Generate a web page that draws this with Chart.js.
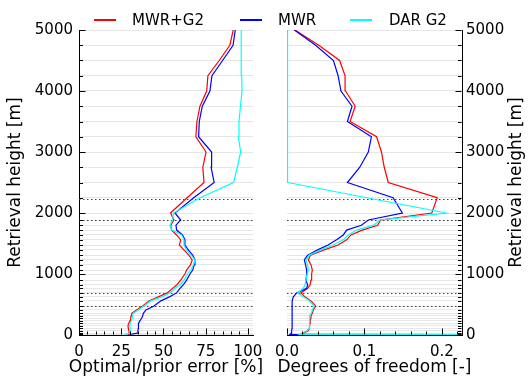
<!DOCTYPE html>
<html>
<head>
<meta charset="utf-8">
<script src="https://cdn.jsdelivr.net/npm/chart.js@4.4.0/dist/chart.umd.min.js"></script>
<style>
  body { margin: 0; background: #fff; }
  #fig { position: relative; width: 528px; height: 378px; font-family: 'DejaVu Sans', sans-serif; }
  #fig canvas { position: absolute; top: 0; }
  #errChart { left: 0; }
  #dofChart { left: 270px; }
  .key { position: absolute; top: 11px; font-size: 15px; line-height: 18px; color: #000; white-space: nowrap; }
  .swatch { position: absolute; top: 19px; width: 22px; height: 1.5px; }
</style>
</head>
<body>
<div id="fig">
  <canvas id="errChart" width="270" height="378"></canvas>
  <canvas id="dofChart" width="258" height="378"></canvas>
  <div id="legend"></div>
</div>
<script>
// retrieval levels [m]
const heights = [0, 10, 30, 70, 110, 150, 190, 235, 275, 315, 355, 410, 475, 560, 625, 690, 765, 820, 900, 1000,
  1065, 1150, 1230, 1310, 1395, 1475, 1560, 1640, 1720, 1800, 1885, 2000, 2250, 2500, 2750, 3000, 3250, 3500,
  3750, 4000, 4250, 4500, 4750, 5000];
const heightLabels = [0, 1000, 2000, 3000, 4000, 5000];
const layerEdges = [475, 690, 1885, 2235];

const seriesNames = ['MWR+G2', 'MWR', 'DAR G2'];
const seriesColors = ['#ff0000', '#0000ff', '#00ffff'];

// optimal/prior error [%]
const errMwrG2 = [29.2, 29.2, 29.8, 29.6, 29.2, 29.0, 29.4, 30.2, 30.6, 30.8, 31.2, 34.1, 37.7, 41.6, 47.0, 52.3,
  55.4, 57.8, 60.2, 62.7, 63.7, 66.0, 67.0, 65.0, 62.1, 59.4, 60.2, 57.8, 54.8, 54.3, 56.2, 54.2, 64.0, 74.0,
  73.3, 75.2, 69.2, 69.8, 71.6, 75.6, 76.3, 83.0, 89.3, 91.3];
const errMwr = [30.2, 30.2, 34.5, 34.9, 35.1, 35.1, 35.3, 36.1, 37.1, 37.7, 38.1, 39.6, 44.4, 48.5, 53.5, 57.8,
  59.8, 61.7, 63.7, 65.7, 67.3, 68.2, 68.6, 67.3, 64.7, 62.7, 62.7, 61.3, 57.8, 57.4, 60.2, 56.8, 67.9, 80.0,
  78.2, 78.5, 70.8, 71.2, 73.0, 77.5, 78.7, 85.0, 91.2, 92.5];
const errDarG2 = [27.2, 27.2, 30.2, 30.4, 30.2, 30.0, 30.4, 31.0, 31.4, 31.6, 32.1, 35.1, 38.5, 42.4, 48.9, 53.8,
  56.8, 59.8, 62.1, 64.3, 66.1, 67.8, 68.6, 66.3, 63.7, 62.1, 62.1, 60.8, 55.0, 53.8, 55.4, 56.0, 71.7, 91.5,
  93.7, 95.7, 94.3, 94.7, 95.6, 96.5, 96.3, 96.2, 96.0, 95.9];

// degrees of freedom per level [-]
const dofMwrG2 = [1.5, 0.018, 0.021, 0.0275, 0.029, 0.029, 0.030, 0.030, 0.031, 0.031, 0.0327, 0.034, 0.037,
  0.031, 0.0232, 0.018, 0.0267, 0.0297, 0.031, 0.0318, 0.0327, 0.031, 0.0275, 0.0305, 0.048, 0.066, 0.077,
  0.0826, 0.097, 0.117, 0.121, 0.187, 0.194, 0.1308, 0.1256, 0.122, 0.1157, 0.0815, 0.088, 0.0757, 0.075,
  0.068, 0.041, 0.0103];
const dofMwr = [1.5, 0.004, 0.0056, 0.006, 0.0065, 0.0065, 0.0065, 0.0065, 0.0065, 0.0066, 0.0066, 0.0067,
  0.0069, 0.0069, 0.0082, 0.0125, 0.0254, 0.0267, 0.0245, 0.0254, 0.0254, 0.024, 0.0224, 0.0267, 0.0396, 0.053,
  0.064, 0.0727, 0.077, 0.096, 0.105, 0.149, 0.137, 0.078, 0.094, 0.105, 0.109, 0.078, 0.084, 0.0697, 0.066,
  0.060, 0.037, 0.0095];
const dofDarG2 = [1.5, 0.016, 0.019, 0.026, 0.0285, 0.0285, 0.029, 0.029, 0.0297, 0.0297, 0.0314, 0.0327,
  0.0353, 0.0288, 0.021, 0.0138, 0.021, 0.0232, 0.0245, 0.026, 0.0275, 0.0267, 0.0245, 0.0288, 0.0439, 0.0598,
  0.0727, 0.079, 0.09, 0.112, 0.12, 0.206, 0.103, 0.001, 0.0007, 0.0007, 0.0007, 0.0007, 0.0007, 0.0007,
  0.0007, 0.0007, 0.0007, 0.0007];

const errTicks = [0, 25, 50, 75, 100];
const dofTicks = [0, 0.1, 0.2];

Chart.defaults.font.family = "'DejaVu Sans'";
Chart.defaults.color = '#000';

const TITLE_FONT = "17px 'DejaVu Sans'";

// dotted layer boundaries, inward tick marks and axis titles
const frame = {
  id: 'frame',
  beforeDatasetsDraw(chart) {
    const {ctx, chartArea: a, scales: {y}} = chart;
    ctx.save();
    ctx.strokeStyle = '#444';
    ctx.lineWidth = 1;
    ctx.setLineDash([1.5, 2.5]);
    layerEdges.forEach(h => {
      const py = Math.round(y.getPixelForValue(h)) + 0.5;
      ctx.beginPath();
      ctx.moveTo(a.left, py);
      ctx.lineTo(a.right, py);
      ctx.stroke();
    });
    ctx.restore();
  },
  afterDraw(chart, args, opts) {
    const {ctx, chartArea: a, scales: {x, y}} = chart;
    ctx.save();
    ctx.strokeStyle = '#000';
    ctx.lineWidth = 1;
    const left = opts.side === 'left';
    const sx = left ? Math.round(a.left) + 0.5 : Math.round(a.right) - 0.5;
    const dir = left ? 1 : -1;
    heights.forEach(h => {
      const len = h % 1000 === 0 ? 6 : 3.5;
      const py = Math.round(y.getPixelForValue(h)) + 0.5;
      ctx.beginPath();
      ctx.moveTo(sx, py);
      ctx.lineTo(sx + dir * len, py);
      ctx.stroke();
    });
    const n = Math.floor(x.max / opts.minorStep + 1e-6);
    const by = Math.round(a.bottom) - 0.5;
    for (let i = 0; i <= n; i++) {
      const v = i * opts.minorStep;
      const r = v / opts.majorStep;
      const len = Math.abs(r - Math.round(r)) < 1e-6 ? 6 : 3;
      const px = Math.round(x.getPixelForValue(v)) + 0.5;
      ctx.beginPath();
      ctx.moveTo(px, by);
      ctx.lineTo(px, by - len);
      ctx.stroke();
    }

    ctx.fillStyle = '#000';
    ctx.font = TITLE_FONT;
    ctx.textAlign = 'center';
    ctx.textBaseline = 'middle';
    ctx.fillText(opts.xTitle, (a.left + a.right) / 2, chart.height - 10);
    ctx.translate(left ? 16 : chart.width - 11, (a.top + a.bottom) / 2);
    ctx.rotate(-Math.PI / 2);
    ctx.fillText('Retrieval height [m]', 0, 0);
    ctx.restore();
  }
};

// cyan drawn last, red underneath
function profiles(values) {
  return values.map((vals, i) => ({
    label: seriesNames[i],
    data: vals.map((v, k) => ({ x: v, y: heights[k] })),
    borderColor: seriesColors[i],
    borderWidth: 1.2,
    pointRadius: 0,
    tension: 0,
    fill: false,
    order: values.length - 1 - i
  }));
}

function heightAxis(position, width) {
  return {
    type: 'linear',
    position: position,
    min: 0,
    max: 5000,
    afterBuildTicks: s => { s.ticks = heights.map(v => ({ value: v })); },
    afterFit: s => { s.width = width; },
    grid: { color: '#e6e6e6', drawTicks: false },
    border: { color: '#000', width: 1 },
    ticks: {
      autoSkip: false,
      padding: position === 'left' ? 6 : 4,
      font: { size: 15 },
      callback: v => heightLabels.includes(v) ? String(v) : ''
    }
  };
}

function valueAxis(max, ticks, fmt) {
  return {
    type: 'linear',
    min: 0,
    max: max,
    afterBuildTicks: s => { s.ticks = ticks.map(v => ({ value: v })); },
    afterFit: s => { s.height = 43; },
    grid: { display: false },
    border: { color: '#000', width: 1 },
    ticks: { padding: 0, maxRotation: 0, font: { size: 15 }, callback: fmt }
  };
}

const common = {
  responsive: false,
  animation: false,
  devicePixelRatio: 1,
  events: [],
  plugins: { legend: { display: false }, tooltip: { enabled: false } }
};

new Chart(document.getElementById('errChart'), {
  type: 'line',
  data: { datasets: profiles([errMwrG2, errMwr, errDarG2]) },
  options: {
    ...common,
    layout: { padding: { top: 30, right: 17, left: 0, bottom: 0 } },
    plugins: {
      ...common.plugins,
      frame: { side: 'left', minorStep: 5, majorStep: 25, xTitle: 'Optimal/prior error [%]' }
    },
    scales: {
      x: valueAxis(103, errTicks, v => String(v)),
      y: heightAxis('left', 79)
    }
  },
  plugins: [frame]
});

new Chart(document.getElementById('dofChart'), {
  type: 'line',
  data: { datasets: profiles([dofMwrG2, dofMwr, dofDarG2]) },
  options: {
    ...common,
    layout: { padding: { top: 30, right: 0, left: 17, bottom: 0 } },
    plugins: {
      ...common.plugins,
      frame: { side: 'right', minorStep: 0.02, majorStep: 0.1, xTitle: 'Degrees of freedom [-]' }
    },
    scales: {
      x: valueAxis(0.226, dofTicks, v => v.toFixed(1)),
      y: heightAxis('right', 66)
    }
  },
  plugins: [frame]
});

// shared legend across both panels
const legendX = [[94, 132], [240, 278], [350, 389]];
const legend = document.getElementById('legend');
seriesNames.forEach((name, i) => {
  const sw = document.createElement('div');
  sw.className = 'swatch';
  sw.style.left = legendX[i][0] + 'px';
  sw.style.backgroundColor = seriesColors[i];
  legend.appendChild(sw);
  const t = document.createElement('span');
  t.className = 'key';
  t.style.left = legendX[i][1] + 'px';
  t.textContent = name;
  legend.appendChild(t);
});
</script>
</body>
</html>
